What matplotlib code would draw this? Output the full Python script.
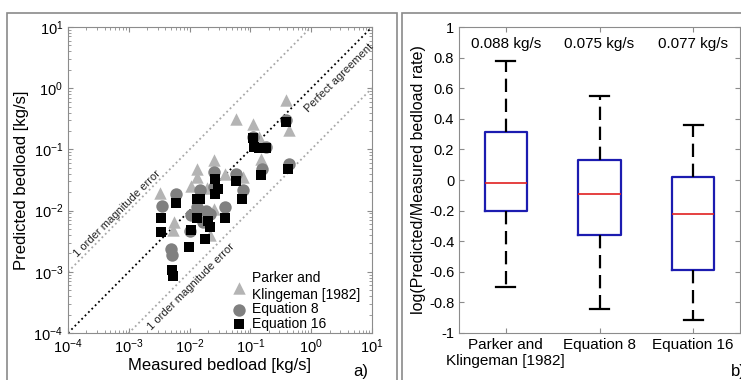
import numpy as np
import matplotlib.pyplot as plt
from matplotlib.patches import Rectangle

plt.rc('font', family='Liberation Sans', size=10)

# PANEL A DATA (measured vs predicted bedload, kg/s)
pk_meas = [0.0033, 0.0055, 0.0053, 0.0107, 0.013, 0.0134, 0.0193, 0.0213, 0.025,
           0.025, 0.0376, 0.057, 0.075, 0.11, 0.14, 0.147, 0.39, 0.43]
pk_pred = [0.0194, 0.0065, 0.0048, 0.025, 0.036, 0.047, 0.0235, 0.004, 0.068,
           0.0105, 0.040, 0.31, 0.035, 0.257, 0.16, 0.069, 0.63, 0.205]

eq8_meas = [0.0035, 0.006, 0.005, 0.0052, 0.0106, 0.010, 0.013, 0.0146, 0.0188,
            0.0218, 0.0166, 0.025, 0.025, 0.0376, 0.057, 0.075, 0.11, 0.155,
            0.18, 0.38, 0.43]
eq8_pred = [0.0117, 0.0185, 0.0024, 0.0019, 0.0084, 0.0047, 0.0115, 0.0214, 0.010,
            0.0088, 0.0065, 0.043, 0.024, 0.0115, 0.039, 0.0214, 0.16, 0.047,
            0.11, 0.30, 0.057]

eq16_meas = [0.0034, 0.0034, 0.0059, 0.0051, 0.0053, 0.0105, 0.0097, 0.013, 0.013,
             0.0146, 0.020, 0.0177, 0.0218, 0.0258, 0.0265, 0.0291, 0.0376, 0.057,
             0.073, 0.11, 0.113, 0.14, 0.165, 0.18, 0.15, 0.388, 0.42]
eq16_pred = [0.0076, 0.0044, 0.0135, 0.00108, 0.00084, 0.0049, 0.0025, 0.0077, 0.0157,
             0.0157, 0.0068, 0.0035, 0.0054, 0.033, 0.019, 0.0228, 0.0077, 0.031,
             0.0157, 0.153, 0.11, 0.105, 0.105, 0.105, 0.038, 0.28, 0.048]

# PANEL B DATA (log ratio box plots)
box_labels = ['Parker and\nKlingeman [1982]', 'Equation 8', 'Equation 16']
box_med = [-0.02, -0.09, -0.224]
box_q1 = [-0.20, -0.357, -0.591]
box_q3 = [0.315, 0.13, 0.022]
box_lo = [-0.70, -0.841, -0.913]
box_hi = [0.776, 0.548, 0.357]
box_note = ['0.088 kg/s', '0.075 kg/s', '0.077 kg/s']

W, H = 741, 380
fig = plt.figure(figsize=(W / 100, H / 100), dpi=100)

# panel frames
fig.patches.append(Rectangle((7 / W, -0.05), 390 / W, (367 / H) + 0.05, transform=fig.transFigure,
                             fill=False, ec='#8a8a8a', lw=1.2))
fig.patches.append(Rectangle((402 / W, -0.05), 0.5, (367 / H) + 0.05, transform=fig.transFigure,
                             fill=False, ec='#8a8a8a', lw=1.2))

spine_col = '#8c8c8c'

# PANEL A
ax1 = fig.add_axes([68 / W, 47 / H, 304 / W, 306 / H])
ax1.set_xscale('log')
ax1.set_yscale('log')
ref = np.array([1e-4, 1e1])
ax1.plot(ref, ref * 10, ':', color='#a8a8a8', lw=1.3)
ax1.plot(ref, ref / 10, ':', color='#a8a8a8', lw=1.3)
ax1.plot(ref, ref, ':', color='k', lw=1.3)

ax1.scatter(pk_meas, pk_pred, marker='^', s=80, color='#b4b4b4', lw=0, label='Parker and\nKlingeman [1982]', zorder=3)
ax1.scatter(eq8_meas, eq8_pred, marker='o', s=80, color='#808080', lw=0, label='Equation 8', zorder=4)
ax1.scatter(eq16_meas, eq16_pred, marker='s', s=55, color='k', lw=0, label='Equation 16', zorder=5)

ax1.text(6.4e-4, 9.0e-3, '1 order magnitude error', rotation=45, rotation_mode='anchor',
         ha='center', va='center', fontsize=8, color='#222222')
ax1.text(1.05e-2, 5.8e-4, '1 order magnitude error', rotation=45, rotation_mode='anchor',
         ha='center', va='center', fontsize=8, color='#222222')
ax1.text(2.86, 1.5, 'Perfect agreement', rotation=45, rotation_mode='anchor',
         ha='center', va='center', fontsize=8, color='#222222')

ax1.set_xlim(1e-4, 1e1)
ax1.set_ylim(1e-4, 1e1)
ax1.set_xlabel('Measured bedload [kg/s]', fontsize=12, labelpad=1)
ax1.set_ylabel('Predicted bedload [kg/s]', fontsize=12, labelpad=3)
ax1.tick_params(which='both', direction='in', top=True, right=True, color=spine_col, labelsize=10.5)
for s in ax1.spines.values():
    s.set_color(spine_col)
ax1.legend(loc='lower right', bbox_to_anchor=(0.967, 0.0), frameon=False, fontsize=10,
           labelspacing=0.05, handlelength=1.0, handletextpad=0.4, borderaxespad=0.05, borderpad=0.1)

# PANEL B
ax2 = fig.add_axes([459 / W, 47 / H, 281 / W, 306 / H])
stats = []
for lab, med, q1, q3, lo, hi in zip(box_labels, box_med, box_q1, box_q3, box_lo, box_hi):
    stats.append(dict(label=lab, med=med, q1=q1, q3=q3, whislo=lo, whishi=hi, fliers=[]))
ax2.bxp(stats, positions=[1, 2, 3], widths=0.45, capwidths=0.2, showfliers=False,
        boxprops=dict(color='#1c1cb0', lw=1.6),
        medianprops=dict(color='#e02020', lw=1.2),
        whiskerprops=dict(color='k', lw=1.6, linestyle=(0, (6, 3))),
        capprops=dict(color='k', lw=1.6))
for x, note in zip([1, 2, 3], box_note):
    ax2.text(x, 0.89, note, ha='center', va='center', fontsize=11)

ax2.set_xlim(0.5, 3.5)
ax2.set_ylim(-1, 1)
yt = np.round(np.arange(-1, 1.01, 0.2), 1)
ax2.set_yticks(yt)
ax2.set_yticklabels(['%g' % (0.0 if abs(v) < 1e-9 else v) for v in yt])
ax2.set_ylabel('log(Predicted/Measured bedload rate)', fontsize=11.5, labelpad=2)
ax2.tick_params(which='both', direction='in', top=True, right=True, color=spine_col, labelsize=10.5)
ax2.tick_params(axis='x', labelsize=11)
for s in ax2.spines.values():
    s.set_color(spine_col)

fig.text(368 / W, 1 - 364 / H, 'a)', ha='right', va='top', fontsize=12)
fig.text(731 / W, 1 - 364 / H, 'b)', ha='left', va='top', fontsize=12)

fig.savefig('out.png', dpi=100)
